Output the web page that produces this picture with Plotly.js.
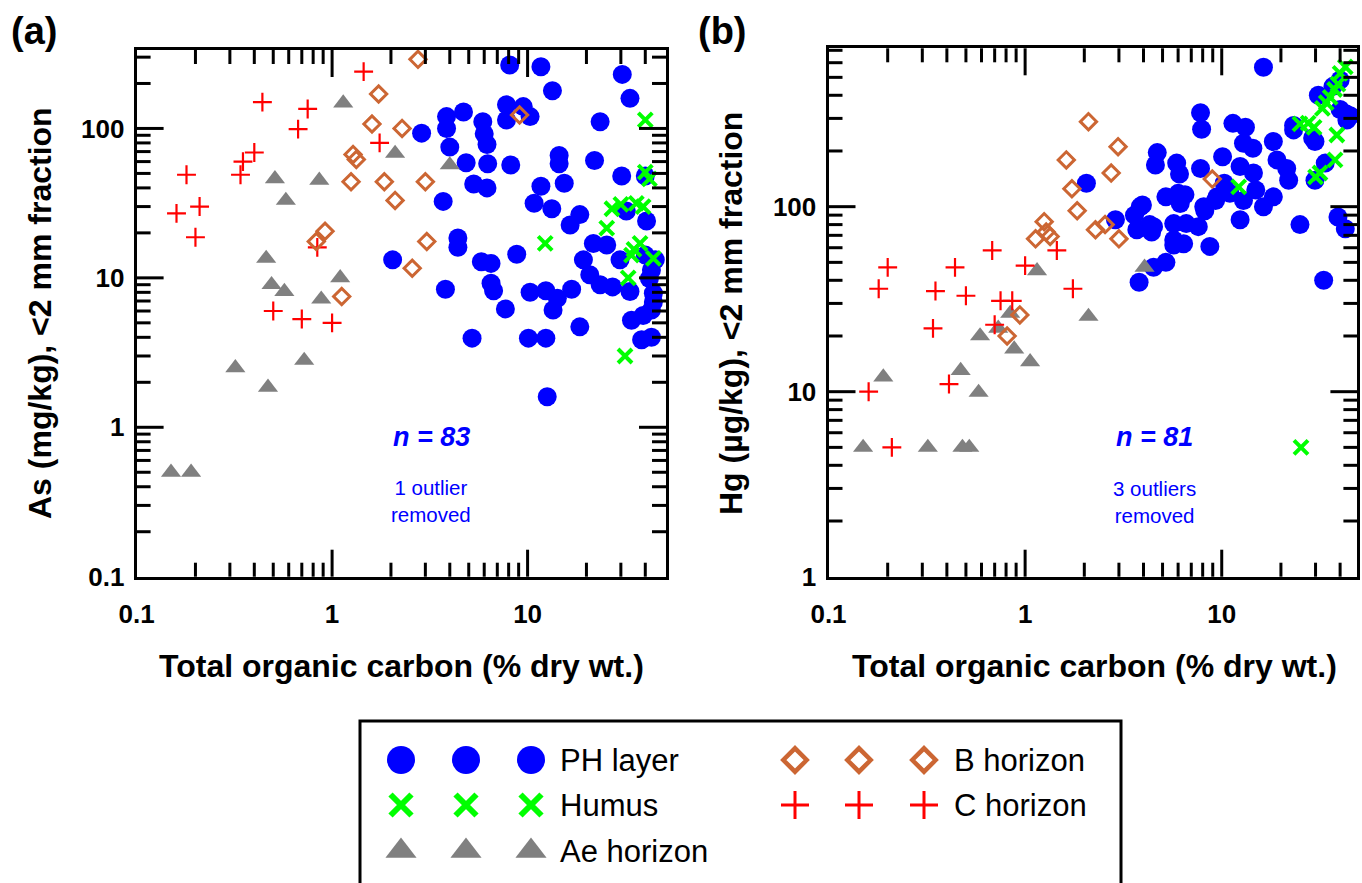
<!DOCTYPE html>
<html><head><meta charset="utf-8">
<script src="https://cdn.plot.ly/plotly-3.0.1.min.js"></script>
<style>html,body{margin:0;padding:0;background:#fff}#chart{width:1362px;height:883px}</style>
</head><body><div id="chart"></div>
<script>
// ---------------- DATA: panel (a) As vs TOC ----------------
var phA_toc = [8.1,11.7,30.5,13.4,33.4,7.8,9.5,10.3,7.8,4.7,3.85,3.85,2.87,5.9,6.0,6.2,4.0,23.5,4.85,6.25,8.2,14.5,14.5,22,30.3,40,5.3,6.2,11.7,15.4,3.7,10.8,13.3,18.5,16.5,32,40.6,4.4,4.4,2.04,3.8,5.2,5.8,6.5,6.5,6.7,7.7,8.8,10.3,12.4,14.2,13.5,16.8,10.1,12.4,18.5,12.6,19.3,21.7,25.4,20.8,23.5,27.2,29.7,33.4,34,38.3,43,39,43,44,44,42,43,45,40];
var phA_as  = [266,259,230,179,159,144,140,120,114,129,120,100,93,111,92,78,75,111,59,58,57,66,58,61,48,48,42.5,40,41,43,32.5,31.6,29,26.5,22.6,28,24,18.5,16,13.2,8.4,3.95,12.8,12.5,9.2,8.2,6.2,14.4,8,8.2,7.3,6.1,8.4,3.95,3.95,4.7,1.6,13.2,17,16.6,10.5,9,8.7,13.2,8.1,5.2,3.85,4.0,5.6,6.1,6.9,7.9,9.9,11.3,13.2,14.2];
var huA_toc = [40,40,42,27,30,36,39,25.4,12.3,37.6,34,44,35,32.7,31.5];
var huA_as  = [114,51,46,29,31,31.5,30,21.5,17,17,14.2,13.5,15.5,10,3];
var aeA_toc = [1.14,2.1,4.0,0.86,0.51,0.58,0.46,0.49,0.57,0.88,1.1,0.32,0.72,0.47,0.15,0.19];
var aeA_as  = [148,68,57,45,46,33,13.5,9,8.1,7.2,10,2.5,2.8,1.85,0.5,0.5];
var bA_toc  = [2.75,1.73,1.6,2.28,9.1,1.28,1.33,1.25,1.85,3.0,2.1,0.83,0.92,3.05,2.57,1.12];
var bA_as   = [290,170,107,100,123,67,62,44,44,44,33,17.5,20.5,17.5,11.6,7.5];
var cA_toc  = [1.45,1.75,0.44,0.75,0.67,0.40,0.35,0.34,0.18,0.21,0.16,0.2,0.84,0.5,0.7,1.0];
var cA_as   = [240,80,150,135,99,69,60,49,49,30,27,18.7,16,6,5.3,5.0];

// ---------------- DATA: panel (b) Hg vs TOC ----------------
var phB_toc = [16.3,7.8,7.9,11.4,13.2,12.9,14.4,18.3,10.1,12.4,14.5,19.1,21.4,21.9,31,23.2,29.8,40,43.3,45,40,33.6,29.8,4.7,4.6,5.9,6.1,7.8,5.2,6.5,6.15,2.05,3.85,3.6,2.88,4.3,3.7,5.7,6.6,7.6,8.1,9.45,11,10.3,12.9,14.9,16.3,18.3,12.4,25,39,42.5,3.8,4.5,5.2,5.7,6.4,8.7,5.7,4.4,33,23.2,29,42.8,36.8,3.95,4.5,6.0,9.3,8.2];
var phB_hg  = [567,322,262,282,269,220,207,225,186,165,152,179,161,139,400,260,225,484,294,310,335,172,139,196,168,172,150,161,113,116,104,134,100,90,85,80,75,81,81,78,100,113,118,134,108,123,100,113,85,80,88,76,39,47,50,62,63,61,66,73,40,275,235,318,447,102,78,118,108,95];
var huB_toc = [12.2,25,27.5,29.5,32.5,34,35.6,37.5,39,40,42.5,38.5,37.7,31.6,30,25.3];
var huB_hg  = [128,280,283,268,340,365,390,430,460,525,570,244,179,152,145,5];
var aeB_toc = [0.19,0.47,0.58,0.59,0.73,0.84,0.88,1.06,0.15,0.32,0.48,0.52,1.15,2.1,4.05];
var aeB_hg  = [12,13,9.9,20,22,26.5,17,14.5,5,5,5,5,45,25.5,47];
var bB_toc  = [2.1,2.97,1.62,2.74,1.73,8.95,1.84,1.25,1.13,1.28,1.34,2.28,2.55,3.0,0.94,0.81];
var bB_hg   = [288,211,179,152,125,141,95,83,67,73,69,75,80,67,26,20];
var cB_toc  = [0.68,0.2,0.44,1.0,0.18,0.35,0.5,0.75,0.86,0.34,0.7,0.16,0.41,0.21,1.45,1.75];
var cB_hg   = [58,47,47,48,36,35,33,31,31,22,23,10,11,5,58,36];

// ---------------- tick labels / tick positions ----------------
var xTickVals = [0.1,1,10], xTickText = ["0.1","1","10"];
var yTickValsA = [0.1,1,10,100], yTickTextA = ["0.1","1","10","100"];
var yTickValsB = [1,10,100], yTickTextB = ["1","10","100"];
var minorX = [0.2,0.3,0.4,0.5,0.6,0.7,0.8,0.9,2,3,4,5,6,7,8,9,20,30,40];
var minorYA = [0.2,0.3,0.4,0.5,0.6,0.7,0.8,0.9,2,3,4,5,6,7,8,9,20,30,40,50,60,70,80,90,200,300];
var minorYB = [2,3,4,5,6,7,8,9,20,30,40,50,60,70,80,90,200,300,400,500,600,700];

// ---------------- styles ----------------
var W = 1362, H = 883;
function px(x){return x/W;}
function py(y){return 1-y/H;}
var FONT = "Liberation Sans, Arial, Helvetica, sans-serif";
var styles = {
  "PH layer":   {symbol:"circle", size:19, color:"#0000FF", lw:0},
  "Humus":      {symbol:"x-thin", size:14, color:"#00FF00", lw:4},
  "Ae horizon": {symbol:"triangle-up", size:17.5, color:"#808080", lw:0},
  "B horizon":  {symbol:"diamond-open", size:12.5, color:"#CC6633", lw:3},
  "C horizon":  {symbol:"cross-thin", size:13.5, color:"#FF0000", lw:2.2}
};
function mk(name, x, y, xa, ya, leg){
  var s = styles[name];
  var size = leg ? leg.size : s.size, lw = leg ? leg.lw : s.lw;
  return {type:"scatter", mode:"markers", x:x, y:y, xaxis:xa, yaxis:ya, name:name, showlegend:false,
    hoverinfo:"skip", cliponaxis:!leg,
    marker:{symbol:s.symbol, size:size, color:s.color, line:{color:s.color, width:lw}}};
}
var traces = [
  mk("PH layer", phA_toc, phA_as, "x", "y"),
  mk("Ae horizon", aeA_toc, aeA_as, "x", "y"),
  mk("C horizon", cA_toc, cA_as, "x", "y"),
  mk("B horizon", bA_toc, bA_as, "x", "y"),
  mk("Humus", huA_toc, huA_as, "x", "y"),
  mk("PH layer", phB_toc, phB_hg, "x2", "y2"),
  mk("Ae horizon", aeB_toc, aeB_hg, "x2", "y2"),
  mk("C horizon", cB_toc, cB_hg, "x2", "y2"),
  mk("B horizon", bB_toc, bB_hg, "x2", "y2"),
  mk("Humus", huB_toc, huB_hg, "x2", "y2")
];

// ---------------- legend box (own invisible axis pair, pixel frame) ----------------
var LBX0 = 360, LBX1 = 1121, LBY0 = 721;
var legendCols = [[401,466,531],[795,859,924]];
var legendRows = [760,805,851];
var legendItems = [
  {name:"PH layer", col:0, row:0}, {name:"Humus", col:0, row:1}, {name:"Ae horizon", col:0, row:2},
  {name:"B horizon", col:1, row:0}, {name:"C horizon", col:1, row:1}
];
var legendMarker = {"PH layer":{size:28,lw:0}, "Humus":{size:21,lw:6}, "Ae horizon":{size:27,lw:0},
  "B horizon":{size:18,lw:4.5}, "C horizon":{size:20,lw:3}};
legendItems.forEach(function(it){
  var xs = legendCols[it.col], yy = legendRows[it.row];
  traces.push(mk(it.name, xs, [yy,yy,yy], "x3", "y3", legendMarker[it.name]));
});

function axisCommon(){
  return {type:"log", showline:true, linewidth:3, linecolor:"#000", mirror:true,
    ticks:"", showgrid:false, zeroline:false, fixedrange:true,
    tickfont:{family:FONT, size:26, color:"#000", weight:"bold"}};
}
var xa = axisCommon(), ya = axisCommon(), xb = axisCommon(), yb = axisCommon();
Object.assign(xa, {domain:[px(136.6), px(666)], range:[-1, 1.708], anchor:"y", ticklabelstandoff:12,
  tickmode:"array", tickvals:xTickVals, ticktext:xTickText});
Object.assign(ya, {domain:[py(576.7), py(50)], range:[-1, 2.525], anchor:"x", ticklabelstandoff:4,
  tickmode:"array", tickvals:yTickValsA, ticktext:yTickTextA});
Object.assign(xb, {domain:[px(828.5), px(1357.4)], range:[-1, 1.690], anchor:"y2", ticklabelstandoff:12,
  tickmode:"array", tickvals:xTickVals, ticktext:xTickText});
Object.assign(yb, {domain:[py(576.7), py(48.3)], range:[0, 2.856], anchor:"x2", ticklabelstandoff:4,
  tickmode:"array", tickvals:yTickValsB, ticktext:yTickTextB});

// ---------------- tick marks (inside, on all four sides) as domain-referenced line shapes ----------------
var MAJOR_LEN = 27, MINOR_LEN = 14;
function addTicks(list, xid, yid, xAx, yAx, xMajor, xMinor, yMajor, yMinor){
  var pw = (xAx.domain[1]-xAx.domain[0])*W, ph = (yAx.domain[1]-yAx.domain[0])*H;
  function frac(ax, v){ return (Math.log10(v)-ax.range[0])/(ax.range[1]-ax.range[0]); }
  function seg(vals, len, isX){
    vals.forEach(function(v){
      var f = frac(isX ? xAx : yAx, v);
      if(f <= 0.003 || f >= 0.997) return;
      var l = isX ? len/ph : len/pw;
      [[0,l],[1-l,1]].forEach(function(p){
        var s = {type:"line", xref:xid+" domain", yref:yid+" domain", layer:"above", line:{color:"#000", width:3}};
        if(isX){ s.x0 = f; s.x1 = f; s.y0 = p[0]; s.y1 = p[1]; }
        else { s.y0 = f; s.y1 = f; s.x0 = p[0]; s.x1 = p[1]; }
        list.push(s);
      });
    });
  }
  seg(xMajor, MAJOR_LEN, true); seg(xMinor, MINOR_LEN, true);
  seg(yMajor, MAJOR_LEN, false); seg(yMinor, MINOR_LEN, false);
}
var shapes = [{type:"rect", xref:"paper", yref:"paper", x0:px(LBX0), x1:px(LBX1), y0:py(900), y1:py(LBY0),
  line:{color:"#000", width:3}, fillcolor:"rgba(0,0,0,0)"}];
addTicks(shapes, "x", "y", xa, ya, xTickVals, minorX, yTickValsA, minorYA);
addTicks(shapes, "x2", "y2", xb, yb, xTickVals, minorX, yTickValsB, minorYB);

function ann(text, x, y, size, opts){
  var a = {text:text, x:px(x), y:py(y), xref:"paper", yref:"paper", showarrow:false,
    xanchor:"center", yanchor:"middle", font:{family:FONT, size:size, color:"#000"}};
  return Object.assign(a, opts||{});
}
var annotations = [
  ann("<b>(a)</b>", 34, 31, 38),
  ann("<b>(b)</b>", 722, 31, 38),
  ann("<b>As (mg/kg), &lt;2 mm fraction</b>", 40, 313, 32, {textangle:-90}),
  ann("<b>Hg (µg/kg), &lt;2 mm fraction</b>", 731, 313, 32, {textangle:-90}),
  ann("<b>Total organic carbon (% dry wt.)</b>", 401, 666, 32),
  ann("<b>Total organic carbon (% dry wt.)</b>", 1094, 666, 32),
  ann("<b><i>n</i> = 83</b>", 431, 437, 27, {font:{family:FONT, size:27, color:"#0000FF", style:"italic"}}),
  ann("<b><i>n</i> = 81</b>", 1154, 437, 27, {font:{family:FONT, size:27, color:"#0000FF", style:"italic"}}),
  ann("1 outlier<br>removed", 431, 501, 20.5, {font:{family:FONT, size:20.5, color:"#0000FF"}}),
  ann("3 outliers<br>removed", 1154, 502, 20.5, {font:{family:FONT, size:20.5, color:"#0000FF"}})
];
var legendTextX = [558, 952];
legendItems.forEach(function(it){
  annotations.push(ann(it.name, legendTextX[it.col], legendRows[it.row], 31, {xanchor:"left"}));
});

var layout = {
  width:W, height:H, margin:{l:0,r:0,t:0,b:0}, paper_bgcolor:"#fff", plot_bgcolor:"#fff",
  showlegend:false, font:{family:FONT, color:"#000"},
  xaxis:xa, yaxis:ya, xaxis2:xb, yaxis2:yb,
  xaxis3:{domain:[px(LBX0), px(LBX1)], range:[LBX0, LBX1], visible:false, fixedrange:true, anchor:"y3"},
  yaxis3:{domain:[0, py(LBY0)], range:[H, LBY0], visible:false, fixedrange:true, anchor:"x3"},
  annotations:annotations, shapes:shapes
};
Plotly.newPlot("chart", traces, layout, {staticPlot:true, displayModeBar:false});
</script></body></html>
